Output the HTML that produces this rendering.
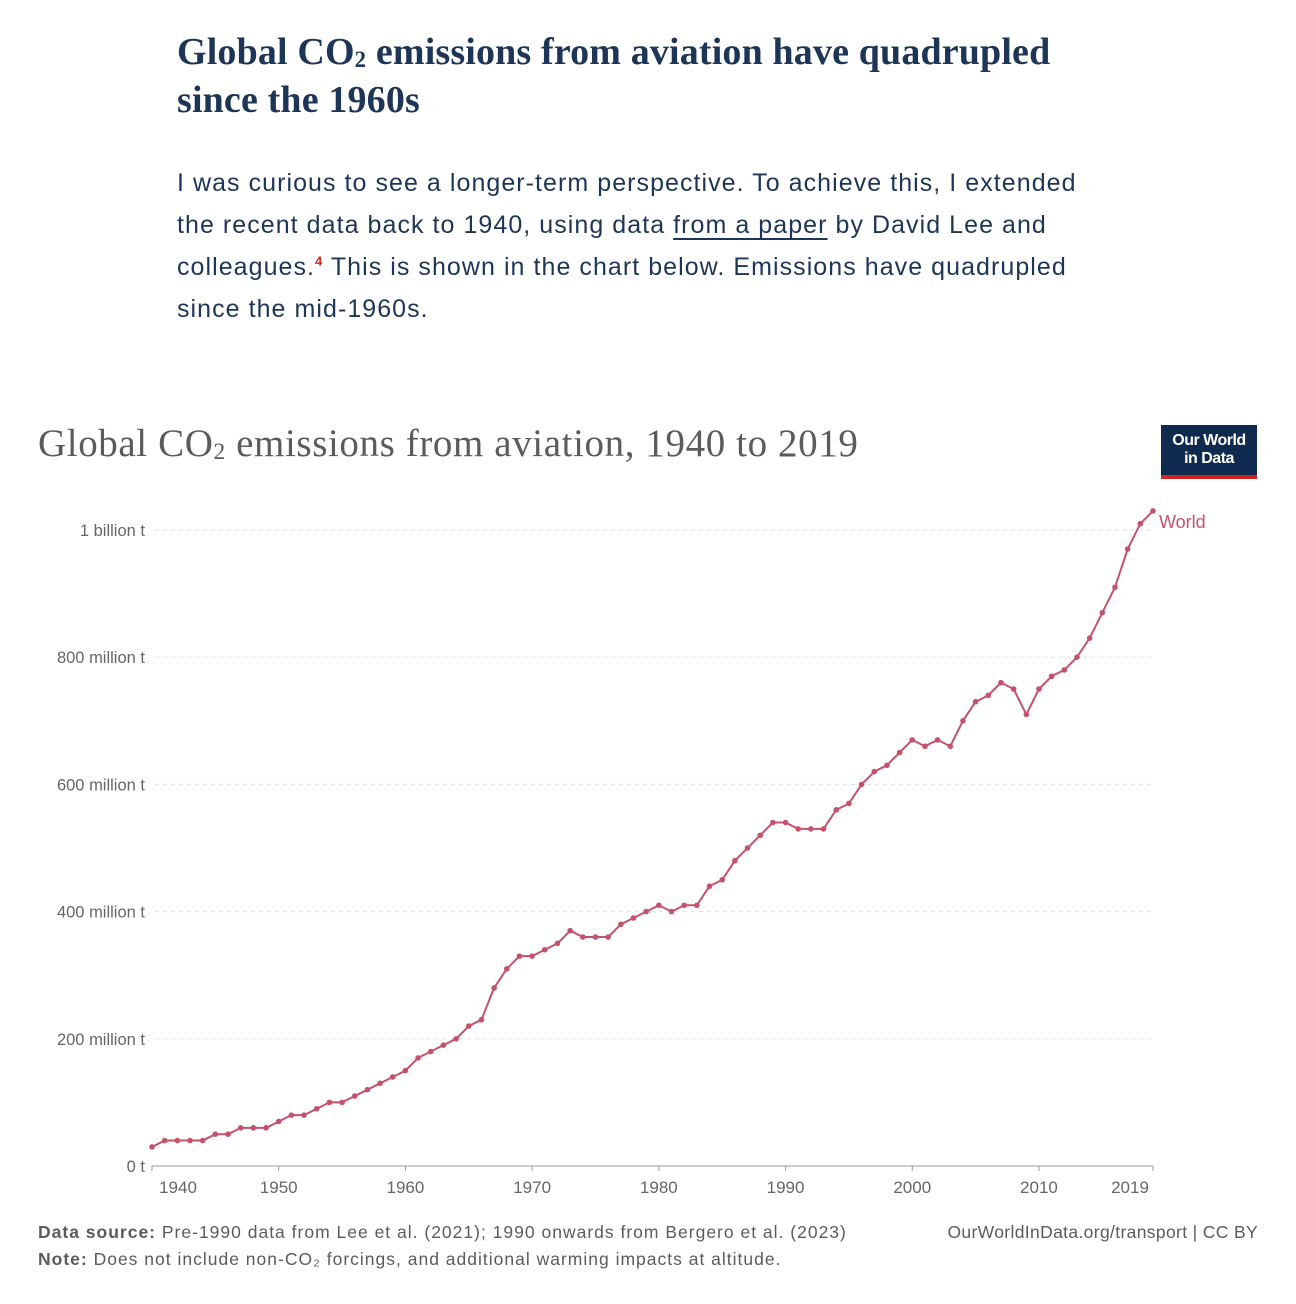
<!DOCTYPE html>
<html><head><meta charset="utf-8"><style>
body{margin:0;width:1296px;height:1304px;background:#fff;position:relative;overflow:hidden;font-family:"Liberation Sans",sans-serif}
.h{position:absolute;left:177px;top:28px;width:1100px;font-family:"Liberation Serif",serif;font-weight:bold;font-size:38px;line-height:48px;color:#1d3557;letter-spacing:0.15px}
.p{position:absolute;left:177px;top:162px;width:1050px;font-size:25px;line-height:42px;color:#1d3557;letter-spacing:1.05px}
.p u{text-underline-offset:5px}
.p sup{line-height:0;color:#ce261e;font-size:13px;font-weight:bold}
.ct{position:absolute;left:38px;top:421px;font-family:"Liberation Serif",serif;font-size:39px;color:#5b5b5b;letter-spacing:0.6px}
.logo{position:absolute;left:1161px;top:425px;width:96px;height:54px;background:#0e2a4f;color:#fff;font-weight:bold;font-size:16px;line-height:18px;text-align:center;box-sizing:border-box;padding-top:7px;border-bottom:4px solid #ce261e;letter-spacing:-0.5px}
.f{position:absolute;font-size:17.5px;color:#5b5b5b;letter-spacing:1px}
</style></head><body>
<div class="h">Global CO<sub style="font-size:60%;vertical-align:-3px;line-height:0">2</sub> emissions from aviation have quadrupled<br>since the 1960s</div>
<div class="p">I was curious to see a longer-term perspective. To achieve this, I extended<br>the recent data back to 1940, using data <u>from a paper</u> by David Lee and<br>colleagues.<sup>4</sup> This is shown in the chart below. Emissions have quadrupled<br>since the mid-1960s.</div>
<div class="ct">Global CO<sub style="font-size:60%;vertical-align:-3px;line-height:0">2</sub> emissions from aviation, 1940 to 2019</div>
<div class="logo">Our World<br>in Data</div>
<svg id="c" width="1296" height="1304" style="position:absolute;left:0;top:0"></svg>
<div class="f" style="left:38px;top:1222px"><b>Data source:</b> Pre-1990 data from Lee et al. (2021); 1990 onwards from Bergero et al. (2023)</div>
<div class="f" style="left:38px;top:1249px"><b>Note:</b> Does not include non-CO₂ forcings, and additional warming impacts at altitude.</div>
<div class="f" style="right:38px;top:1222px;letter-spacing:0.35px">OurWorldInData.org/transport | CC BY</div>
<script>
const years=[];for(let y=1940;y<=2019;y++)years.push(y);
const emissions=[30,40,40,40,40,50,50,60,60,60,70,80,80,90,100,100,110,120,130,140,150,170,180,190,200,220,230,280,310,330,330,340,350,370,360,360,360,380,390,400,410,400,410,410,440,450,480,500,520,540,540,530,530,530,560,570,600,620,630,650,670,660,670,660,700,730,740,760,750,710,750,770,780,800,830,870,910,970,1010,1030];
const yTicks=[0,200,400,600,800,1000];
const yTickLabels=["0 t","200 million t","400 million t","600 million t","800 million t","1 billion t"];
const xTicks=[1940,1950,1960,1970,1980,1990,2000,2010,2019];
const NS="http://www.w3.org/2000/svg",svg=document.getElementById('c');
const x=v=>152+(v-1940)*(1153-152)/79;
const y=v=>1166-v*0.636;
function el(t,a,txt){const e=document.createElementNS(NS,t);for(const k in a)e.setAttribute(k,a[k]);if(txt!=null)e.textContent=txt;svg.appendChild(e);return e;}
yTicks.forEach((v,i)=>{
 if(v>0){const g=el('line',{x1:155,x2:1153,y1:y(v),y2:y(v),stroke:'#ddd','stroke-dasharray':'4,4'});
 
 }
 const t=el('text',{x:145,y:y(v)+6,'text-anchor':'end','font-size':16.5,fill:'#666','font-family':'Liberation Sans'},yTickLabels[i]);
 
 
});
const ax=el('line',{x1:152,x2:1153,y1:1166,y2:1166,stroke:'#999'});


xTicks.forEach(v=>{
 const tk=el('line',{x1:x(v),x2:x(v),y1:1166,y2:1171,stroke:'#999'});
 
 
 const lx=v===1940?x(v)+26:(v===2019?x(v)-23:x(v));
 const t=el('text',{x:lx,y:1193,'text-anchor':'middle','font-size':17,fill:'#666','font-family':'Liberation Sans'},String(v));
 
 
});
const pts=years.map((yr,i)=>x(yr)+','+y(emissions[i])).join(' ');
const ln=el('polyline',{points:pts,fill:'none',stroke:'#c4526b','stroke-width':2,'stroke-linejoin':'round'});


years.forEach((yr,i)=>{
 const c=el('circle',{cx:x(yr),cy:y(emissions[i]),r:2.8,fill:'#c4526b'});
 
 
});
const lb=el('text',{x:1159,y:y(emissions[emissions.length-1])+17,'font-size':18,fill:'#c4526b','font-family':'Liberation Sans'},'World');


</script>
</body></html>
